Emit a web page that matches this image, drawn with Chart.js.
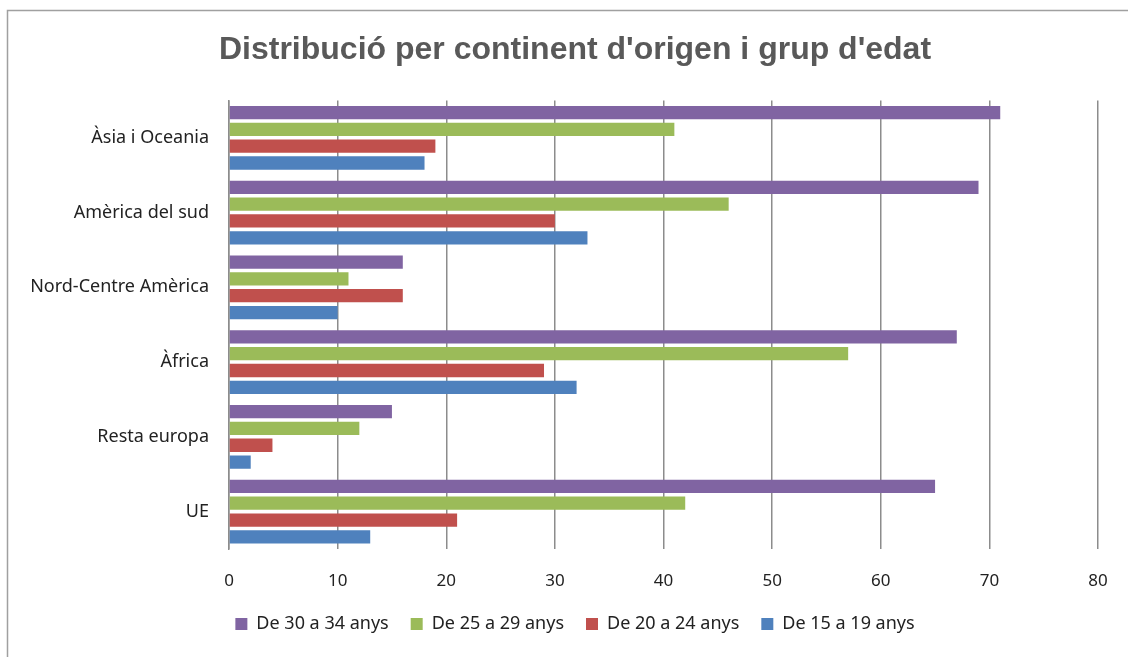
<!DOCTYPE html>
<html lang="ca">
<head>
  <meta charset="UTF-8" />
  <title>Distribució per continent d'origen i grup d'edat</title>
  <script src="https://cdn.jsdelivr.net/npm/chart.js"></script>
  <style>
    body { margin: 0; background: #fff; }
    #wrap { position: relative; width: 1128px; height: 657px; }
  </style>
</head>
<body>
  <div id="wrap"><canvas id="grafic"></canvas></div>

  <script>
    const continents = ['Àsia i Oceania', 'Amèrica del sud', 'Nord-Centre Amèrica', 'Àfrica', 'Resta europa', 'UE'];
    const grups = ['De 30 a 34 anys', 'De 25 a 29 anys', 'De 20 a 24 anys', 'De 15 a 19 anys'];
    const de30a34 = [71, 69, 16, 67, 15, 65];
    const de25a29 = [41, 46, 11, 57, 12, 42];
    const de20a24 = [19, 30, 16, 29, 4, 21];
    const de15a19 = [18, 33, 10, 32, 2, 13];
    const colors = ['#8064A2', '#9BBB59', '#C0504D', '#4F81BD'];

    // marc gris al voltant del gràfic
    const marc = {
      id: 'marc',
      afterDraw(chart) {
        const c = chart.ctx;
        c.save();
        c.strokeStyle = '#a0a0a0';
        c.lineWidth = 1.5;
        c.strokeRect(7.5, 10.5, 1140, 670);
        c.restore();
      }
    };

    const valors = [de30a34, de25a29, de20a24, de15a19];
    const ctx = document.getElementById('grafic').getContext('2d');
    new Chart(ctx, {
      type: 'bar',
      data: {
        labels: continents,
        datasets: grups.map((g, i) => ({
          label: g,
          data: valors[i],
          backgroundColor: colors[i],
          categoryPercentage: 0.9,
          barPercentage: 0.79
        }))
      },
      plugins: [marc],
      options: {
        indexAxis: 'y',
        responsive: true,
        maintainAspectRatio: false,
        animation: false,
        layout: { padding: { left: 22, right: 0, top: 0, bottom: 14 } },
        plugins: {
          title: {
            display: true,
            text: "Distribució per continent d'origen i grup d'edat",
            color: '#595959',
            font: { family: 'Liberation Sans', size: 32, weight: 'bold' },
            padding: { top: 31, bottom: 31 }
          },
          legend: {
            position: 'bottom',
            labels: {
              boxWidth: 12,
              boxHeight: 12,
              padding: 22,
              color: '#222',
              font: { family: 'Noto Sans', size: 18 }
            }
          },
          tooltip: { enabled: false }
        },
        scales: {
          x: {
            min: 0,
            max: 80,
            afterFit(scale) { scale.height = 44; scale.paddingRight = 30; },
            ticks: { stepSize: 10, color: '#222', padding: 22, font: { family: 'Noto Sans', size: 17 } },
            grid: { color: '#8c8c8c', lineWidth: 1.5, drawTicks: false },
            border: { display: false }
          },
          y: {
            afterFit(scale) { scale.width = 207; },
            ticks: { color: '#222', padding: 20, font: { family: 'Noto Sans', size: 18 } },
            grid: { display: false, drawTicks: false },
            border: { display: true, color: '#8c8c8c', width: 1.5 }
          }
        }
      }
    });
  </script>
</body>
</html>
